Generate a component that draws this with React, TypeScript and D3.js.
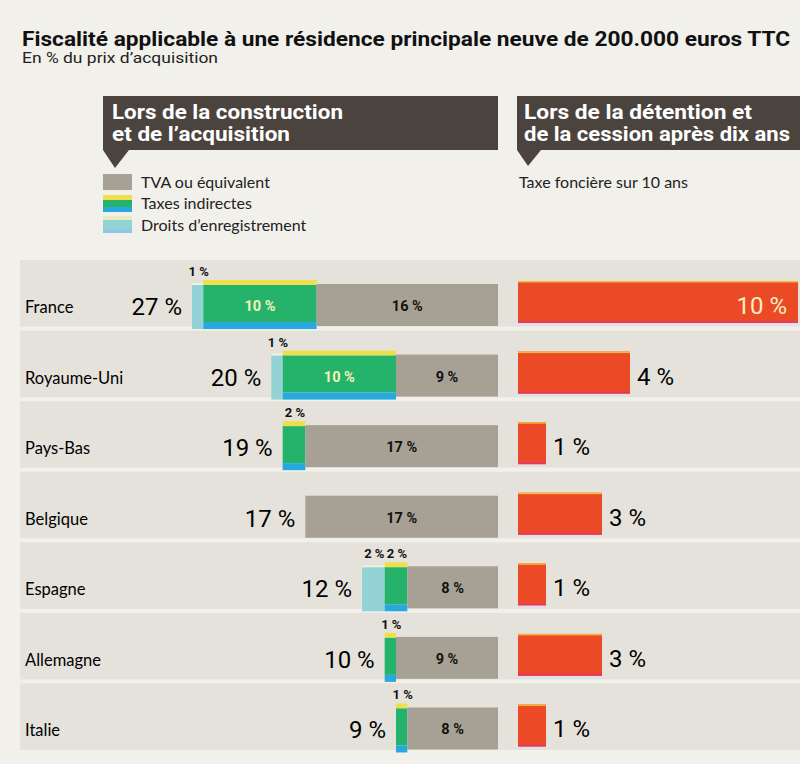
import React from "react";
import * as d3 from "d3";

const countries = ["France", "Royaume-Uni", "Pays-Bas", "Belgique", "Espagne", "Allemagne", "Italie"];
const droitsEnregistrement = [1, 1, 0, 0, 2, 0, 0];
const taxesIndirectes = [10, 10, 2, 0, 2, 1, 1];
const tva = [16, 9, 17, 17, 8, 9, 8];
const totals = [27, 20, 19, 17, 12, 10, 9];
const taxeFonciere = [10, 4, 1, 3, 1, 3, 1];

const W = 800;
const H = 764;

const C = {
  paper: "#f2f0eb",
  band: "#e5e2db",
  tva: "#a6a194",
  green: "#25b36c",
  yellow: "#eee04a",
  blue: "#27a9df",
  light: "#93d3d6",
  orange: "#ec4a27",
  dark: "#4a433e",
};

const sans = "Lato, 'Open Sans', sans-serif";
const cond = "Roboto, 'Liberation Sans', sans-serif";

export default function App() {
  const y = d3.scaleBand<string>().domain(countries).range([260, 750]).paddingInner(4 / 70).paddingOuter(0);
  const xL = d3.scaleLinear().domain([0, 27]).range([0, 306]);
  const leftEnd = 498;
  const xR = d3.scaleLinear().domain([0, 10]).range([518, 798]);

  const rows = countries.map((c, i) => {
    const top = y(c) as number;
    const start = leftEnd - xL(totals[i]);
    const segs = [
      { key: "droits", v: droitsEnregistrement[i] },
      { key: "taxes", v: taxesIndirectes[i] },
      { key: "tva", v: tva[i] },
    ];
    let acc = 0;
    const placed = segs.map((s) => {
      const x0 = start + xL(acc);
      acc += s.v;
      const x1 = start + xL(acc);
      return { ...s, x0, x1 };
    });
    return { c, i, top, start, placed };
  });

  return (
    <svg width={W} height={H} style={{ position: "absolute", left: 0, top: 0, display: "block" }}>
      <rect x={0} y={0} width={W} height={H} fill={C.paper} />
      <text x={22} y={46} fontFamily={cond} fontWeight={700} fontSize={21} fill="#111" textLength={768} lengthAdjust="spacingAndGlyphs">
        Fiscalité applicable à une résidence principale neuve de 200.000 euros TTC
      </text>
      <text x={22} y={63} fontFamily={cond} fontSize={14.5} fill="#222" textLength={196} lengthAdjust="spacingAndGlyphs">
        En % du prix d’acquisition
      </text>

      {/* Headers */}
      <path d="M103,96 H498 V150 H129 L115,168 L103,150 Z" fill={C.dark} />
      <text x={112} y={119} fontFamily={cond} fontWeight={700} fontSize={20} fill="#fff" textLength={231} lengthAdjust="spacingAndGlyphs">
        Lors de la construction
      </text>
      <text x={112} y={141} fontFamily={cond} fontWeight={700} fontSize={20} fill="#fff" textLength={178} lengthAdjust="spacingAndGlyphs">
        et de l’acquisition
      </text>
      <path d="M517,96 H800 V150 H541 L528,166 L517,150 Z" fill={C.dark} />
      <text x={524} y={119} fontFamily={cond} fontWeight={700} fontSize={20} fill="#fff" textLength={228} lengthAdjust="spacingAndGlyphs">
        Lors de la détention et
      </text>
      <text x={524} y={141} fontFamily={cond} fontWeight={700} fontSize={20} fill="#fff" textLength={266} lengthAdjust="spacingAndGlyphs">
        de la cession après dix ans
      </text>

      {/* Legend */}
      <rect x={103} y={174} width={29} height={16} fill={C.tva} />
      <text x={141} y={188} fontFamily={sans} fontSize={16} fill="#222">TVA ou équivalent</text>
      <rect x={103} y={195} width={29} height={5} fill={C.yellow} />
      <rect x={103} y={200} width={29} height={7} fill={C.green} />
      <rect x={103} y={207} width={29} height={5} fill={C.blue} />
      <text x={141} y={209} fontFamily={sans} fontSize={16} fill="#222">Taxes indirectes</text>
      <rect x={103} y={216} width={29} height={4} fill="#e8ecc0" />
      <rect x={103} y={220} width={29} height={9} fill={C.light} />
      <rect x={103} y={229} width={29} height={4} fill="#8cc8e6" />
      <text x={141} y={231} fontFamily={sans} fontSize={16} fill="#222">Droits d’enregistrement</text>
      <text x={519} y={188} fontFamily={sans} fontSize={16} fill="#222">Taxe foncière sur 10 ans</text>

      {/* Rows */}
      {rows.map((r) => {
        const bandH = y.bandwidth();
        const bt = r.top + 24;
        const bb = r.top + 66;
        const ot = r.top + 21;
        const ob = r.top + 63;
        const fonc = taxeFonciere[r.i];
        const oEnd = xR(fonc);
        return (
          <g key={r.c}>
            <rect x={20} y={r.top} width={W - 20} height={bandH} fill={C.band} />
            <text x={25} y={r.top + 53} fontFamily={sans} fontSize={16.5} fill="#000">{r.c}</text>
            <text x={r.start - 10} y={r.top + 55} textAnchor="end" fontFamily={cond} fontWeight={400} fontSize={24} fill="#000">
              {`${totals[r.i]} %`}
            </text>
            {r.placed.map((s) => {
              if (s.v <= 0) return null;
              const w = s.x1 - s.x0;
              const cx = (s.x0 + s.x1) / 2;
              let shape;
              if (s.key === "tva") {
                shape = <rect x={s.x0} y={bt} width={w} height={bb - bt} fill={C.tva} />;
              } else if (s.key === "taxes") {
                shape = (
                  <g>
                    <rect x={s.x0} y={bt - 4} width={w} height={5} fill={C.yellow} />
                    <rect x={s.x0} y={bt + 1} width={w} height={bb - bt - 5} fill={C.green} />
                    <rect x={s.x0} y={bb - 4} width={w} height={7} fill={C.blue} />
                  </g>
                );
              } else {
                shape = (
                  <g>
                    <rect x={s.x0} y={bt} width={w} height={bb - bt + 3} fill={C.light} />
                    <rect x={s.x0} y={bt - 1} width={w} height={2} fill="#eef3dc" />
                  </g>
                );
              }
              let label = null;
              if (s.v >= 5) {
                label = (
                  <text x={cx} y={r.top + 51} textAnchor="middle" fontFamily={cond} fontWeight={700} fontSize={14.5}
                    fill={s.key === "taxes" ? "#f5f1b5" : "#111"}>
                    {`${s.v} %`}
                  </text>
                );
              } else {
                label = (
                  <text x={cx + 1} y={r.top + 16} textAnchor="middle" fontFamily={cond} fontWeight={700} fontSize={13} fill="#111">
                    {`${s.v} %`}
                  </text>
                );
              }
              return (
                <g key={s.key}>
                  {shape}
                  {label}
                </g>
              );
            })}
            <rect x={xR(0)} y={ot} width={oEnd - xR(0)} height={ob - ot} fill={C.orange} />
            <rect x={xR(0)} y={ot} width={oEnd - xR(0)} height={1.5} fill="#f2b93a" />
            <rect x={xR(0)} y={ob - 1.5} width={oEnd - xR(0)} height={1.5} fill="#e0337e" />
            {fonc >= 8 ? (
              <text x={oEnd - 11} y={r.top + 54} textAnchor="end" fontFamily={cond} fontWeight={400} fontSize={24} fill="#f8efc0">
                {`${fonc} %`}
              </text>
            ) : (
              <text x={oEnd + 7} y={r.top + 54} fontFamily={cond} fontWeight={400} fontSize={24} fill="#000">
                {`${fonc} %`}
              </text>
            )}
          </g>
        );
      })}
    </svg>
  );
}
